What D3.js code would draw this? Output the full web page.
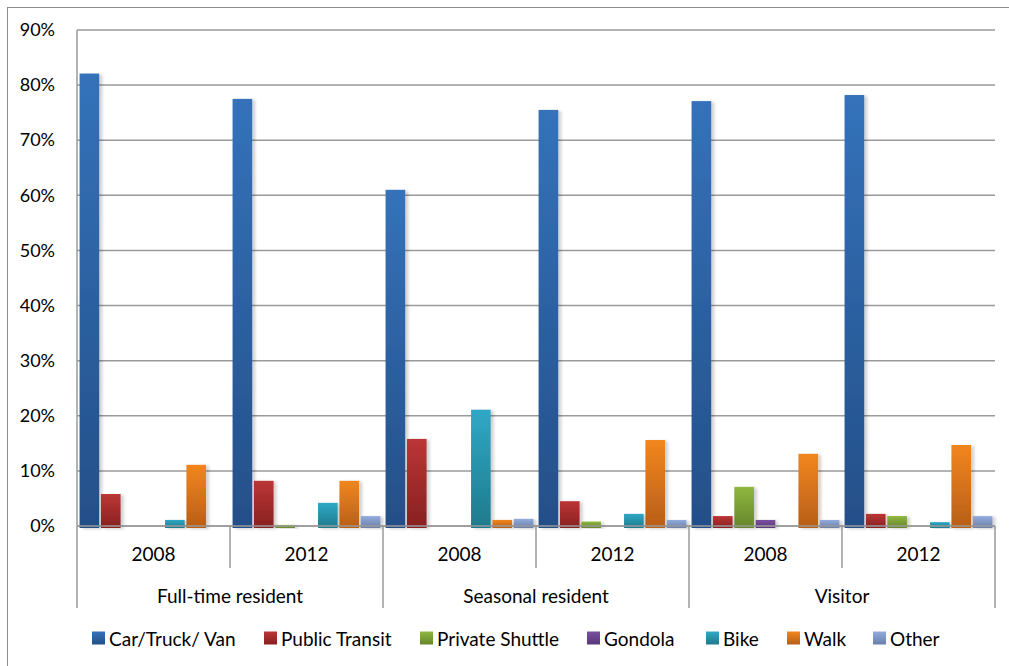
<!DOCTYPE html>
<html>
<head>
<meta charset="utf-8">
<script src="https://cdn.jsdelivr.net/npm/d3@7"></script>
<style>
  body { margin: 0; background: #fff; }
  text { font-family: Lato, "Open Sans", sans-serif; fill: #000; }
</style>
</head>
<body>
<div id="viz"></div>
<script>
// chart data
const groups = ['Full-time resident', 'Seasonal resident', 'Visitor'];
const years = ['2008', '2012'];
const modes = ['Car/Truck/ Van', 'Public Transit', 'Private Shuttle', 'Gondola', 'Bike', 'Walk', 'Other'];
// one value per cluster (groups x years), in percent
const carTruckVan   = [82.1, 77.5, 61.0, 75.5, 77.1, 78.2];
const publicTransit = [5.8, 8.2, 15.8, 4.5, 1.8, 2.2];
const privateShuttle = [0, 0.2, 0, 0.8, 7.1, 1.8];
const gondola       = [0, 0, 0, 0, 1.1, 0];
const bike          = [1.1, 4.2, 21.1, 2.2, 0, 0.7];
const walk          = [11.1, 8.2, 1.1, 15.6, 13.1, 14.7];
const other         = [0, 1.8, 1.3, 1.1, 1.1, 1.8];
const yTicks = [0, 10, 20, 30, 40, 50, 60, 70, 80, 90];

const seriesValues = [carTruckVan, publicTransit, privateShuttle, gondola, bike, walk, other];
const colors = [
  ['#3472ba', '#244f88'],
  ['#bc3535', '#872121'],
  ['#8fb73f', '#66852b'],
  ['#7b4fa0', '#583879'],
  ['#2fa8c6', '#1f7a8c'],
  ['#f2861f', '#b75e18'],
  ['#93acdc', '#6a80ab']
];

const w = 1009, h = 666;
const plotL = 77, plotR = 995, plotT = 30, base = 526;

const svg = d3.select('#viz').append('svg')
  .attr('width', w).attr('height', h);

const defs = svg.append('defs');
colors.forEach((c, i) => {
  const g = defs.append('linearGradient').attr('id', 'grad' + i)
    .attr('x1', 0).attr('y1', 0).attr('x2', 0).attr('y2', 1);
  g.append('stop').attr('offset', '0%').attr('stop-color', c[0]);
  g.append('stop').attr('offset', '100%').attr('stop-color', c[1]);
});
const shadow = defs.append('filter').attr('id', 'shadow')
  .attr('x', '-20%').attr('y', '-5%').attr('width', '160%').attr('height', '120%');
shadow.append('feDropShadow').attr('dx', 3).attr('dy', 1).attr('stdDeviation', 1.5)
  .attr('flood-color', '#000').attr('flood-opacity', 0.18);

// outer border (clipped by the window on right and bottom)
svg.append('rect')
  .attr('x', 7.5).attr('y', 7.5).attr('width', 1020).attr('height', 680)
  .attr('fill', 'none').attr('stroke', '#8e8e8e').attr('stroke-width', 1);

const clusters = [];
groups.forEach(g => years.forEach(y => clusters.push(g + '|' + y)));

const x0 = d3.scaleBand().domain(clusters).range([plotL, plotR]);
const x1 = d3.scaleBand().domain(modes).range([0, x0.bandwidth()])
  .paddingInner(0.08).paddingOuter(0.12);
const y = d3.scaleLinear().domain([0, 90]).range([base, plotT]);

// gridlines
svg.append('g').selectAll('line').data(yTicks).enter().append('line')
  .attr('x1', plotL).attr('x2', plotR)
  .attr('y1', d => y(d)).attr('y2', d => y(d))
  .attr('stroke', '#9a9a9a').attr('stroke-width', 1.5);

// y axis
const yAxis = d3.axisLeft(y).tickValues(yTicks).tickSize(0).tickPadding(22)
  .tickFormat(d => d + '%');
const yg = svg.append('g').attr('transform', `translate(${plotL},0)`).call(yAxis);
yg.select('.domain').remove();
yg.selectAll('text').style('font-size', '18px').attr('fill', '#000');

// bars
clusters.forEach((c, ci) => {
  const g = svg.append('g').attr('transform', `translate(${x0(c)},0)`);
  g.selectAll('rect').data(modes.map((m, si) => ({m, si, v: seriesValues[si][ci]})))
    .enter().append('rect')
    .attr('x', d => x1(d.m))
    .attr('width', x1.bandwidth())
    .attr('y', d => y(d.v))
    .attr('height', d => base - y(d.v) + 2)
    .attr('fill', d => `url(#grad${d.si})`)
    .attr('filter', 'url(#shadow)')
    .style('display', d => d.v > 0 ? null : 'none');
});

// category axis lines
const axisColor = '#9a9a9a';
svg.append('line').attr('x1', plotL).attr('x2', plotR).attr('y1', base).attr('y2', base)
  .attr('stroke', axisColor).attr('stroke-width', 1.5);
svg.append('line').attr('x1', plotL).attr('x2', plotL).attr('y1', plotT).attr('y2', 608)
  .attr('stroke', axisColor).attr('stroke-width', 1.5);
clusters.forEach((c, ci) => {
  const xe = x0(c) + x0.bandwidth();
  const isGroupEnd = ci % 2 === 1;
  svg.append('line').attr('x1', xe).attr('x2', xe)
    .attr('y1', base).attr('y2', isGroupEnd ? 608 : 568)
    .attr('stroke', axisColor).attr('stroke-width', 1.5);
  svg.append('text')
    .attr('x', x0(c) + x0.bandwidth() / 2).attr('y', 553)
    .attr('text-anchor', 'middle').attr('dominant-baseline', 'central')
    .style('font-size', '19px')
    .text(c.split('|')[1]);
});
groups.forEach(g => {
  const xs = x0(g + '|' + years[0]);
  svg.append('text')
    .attr('x', xs + x0.bandwidth()).attr('y', 595)
    .attr('text-anchor', 'middle').attr('dominant-baseline', 'central')
    .style('font-size', '19px')
    .text(g);
});

// legend
const legendX = [92, 264, 420, 587, 706, 787, 873];
const lg = svg.append('g');
modes.forEach((m, i) => {
  lg.append('rect').attr('x', legendX[i]).attr('y', 631.5).attr('width', 13).attr('height', 13)
    .attr('fill', `url(#grad${i})`);
  lg.append('text').attr('x', legendX[i] + 17).attr('y', 638)
    .attr('dominant-baseline', 'central').style('font-size', '19px').text(m);
});
</script>
</body>
</html>
